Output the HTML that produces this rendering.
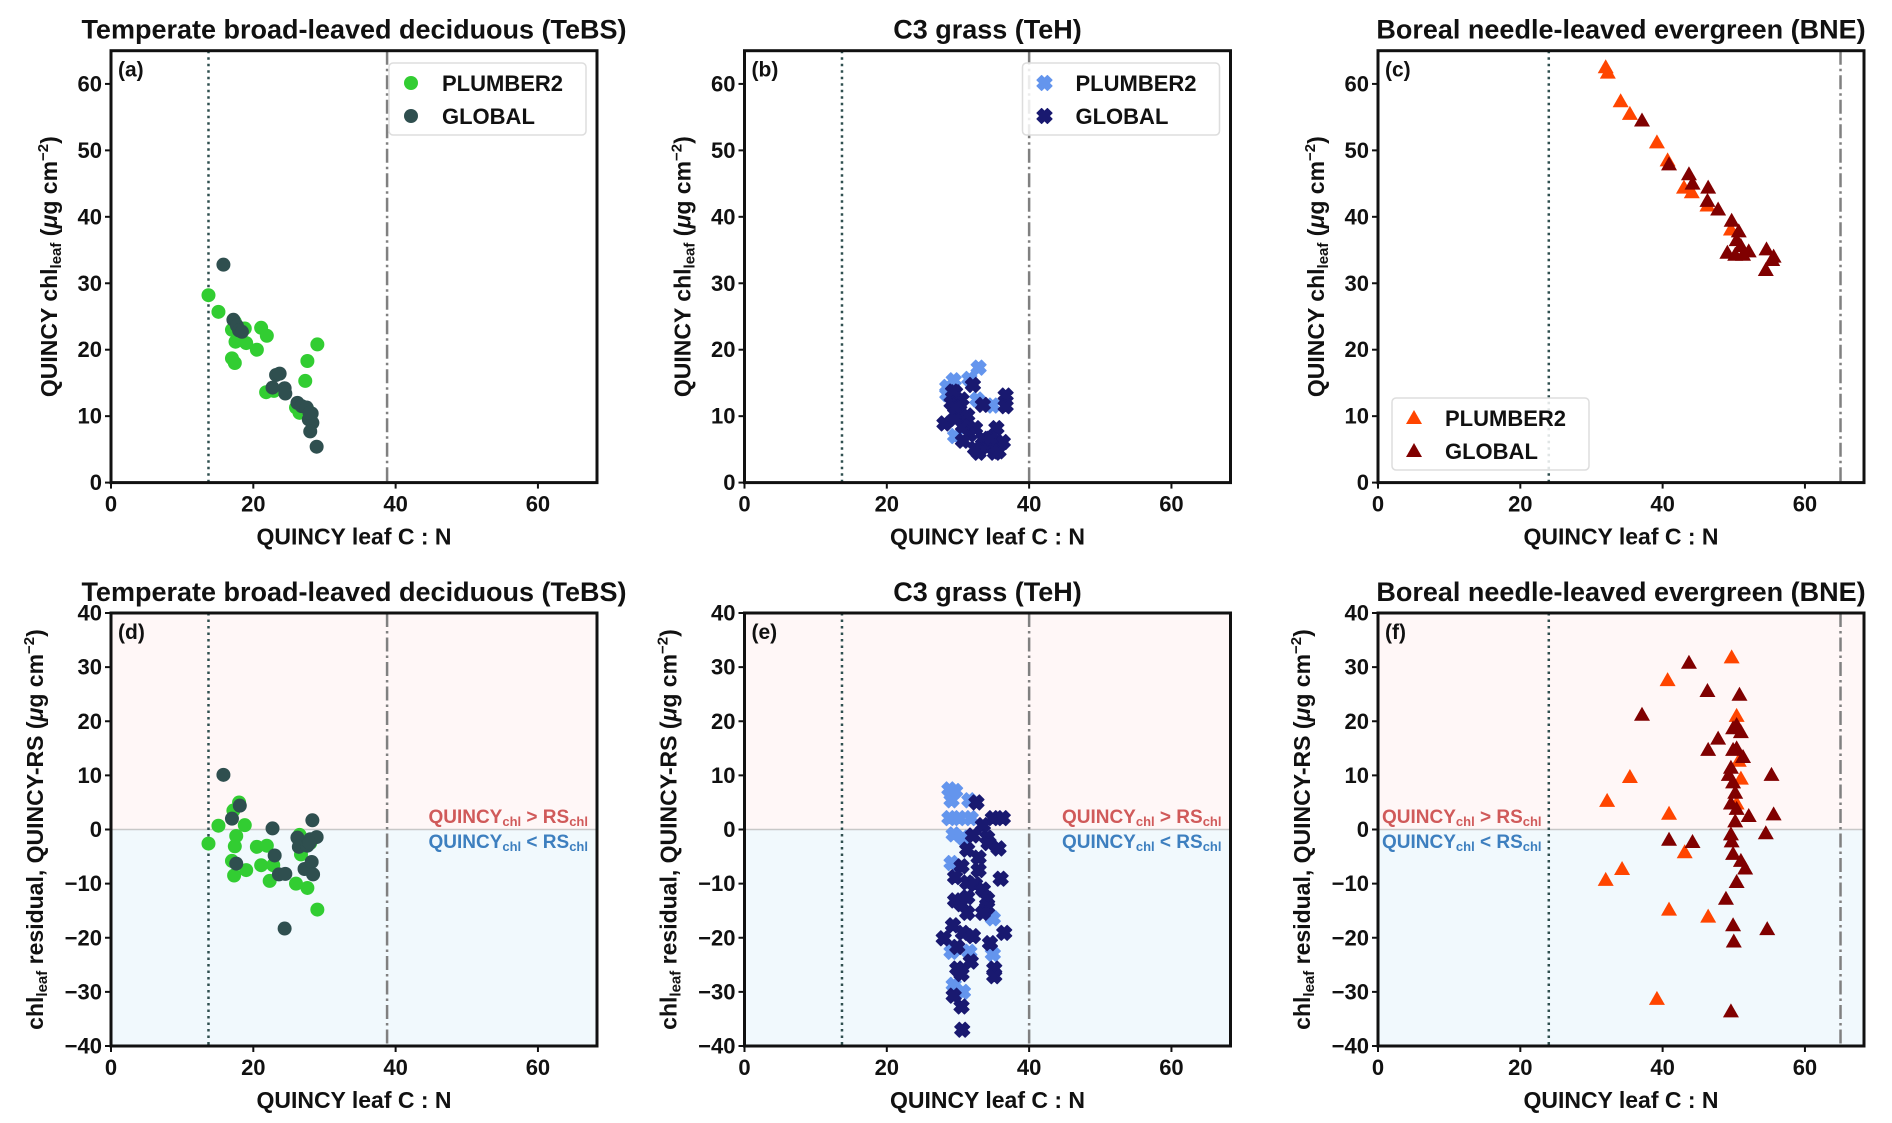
<!DOCTYPE html>
<html><head><meta charset="utf-8"><style>
html,body{margin:0;padding:0;background:#fff}
svg{display:block}
text{font-family:"Liberation Sans","DejaVu Sans",sans-serif}
</style></head><body>
<svg id="fig" width="1892" height="1123" viewBox="0 0 1892 1123" xmlns="http://www.w3.org/2000/svg"></svg>
<script>
// ---- data ----
const xTicks=[0,20,40,60];
const yTicksTop=[0,10,20,30,40,50,60];
const yTicksBot=[-40,-30,-20,-10,0,10,20,30,40];
const titles=["Temperate broad-leaved deciduous (TeBS)","C3 grass (TeH)","Boreal needle-leaved evergreen (BNE)"];
const letters=["(a)","(b)","(c)","(d)","(e)","(f)"];
const dotLines=[13.7,13.7,24];
const dashLines=[38.8,40,65];
const aP=[[13.7,28.2],[15.1,25.7],[17,23],[17.4,24.2],[17.5,21.2],[17,18.7],[17.4,18],[18,22],[18.8,23.2],[19,21],[20.5,20],[21.1,23.3],[21.9,22.1],[21.8,13.6],[22.9,13.8],[26,11.3],[26.5,10.5],[27.3,15.3],[27.6,18.3],[29,20.8],[28,9.6],[27.6,11]];
const aG=[[15.8,32.8],[17.2,24.5],[17.7,23.6],[18,22.9],[18.4,22.7],[22.7,14.3],[23.2,16.2],[23.7,16.4],[24.4,14.2],[24.5,13.4],[26.2,12],[26.8,11.5],[27.5,11.3],[28.2,10.4],[27.8,9.5],[28.3,9],[28,7.7],[28.9,5.4],[27.9,10.5]];
const dP=[[13.7,-2.6],[15.1,0.7],[17,-5.8],[17.2,3.5],[17.3,-8.5],[17.4,-3.1],[17.6,-1.2],[18,5],[18.8,0.8],[19,-7.5],[20.5,-3.2],[21.1,-6.6],[21.9,-3],[22.3,-9.5],[22.8,-6.6],[26,-10],[26.5,-1],[26.7,-4.6],[27.3,-3],[27.6,-10.8],[28,-2.5],[29,-14.8]];
const dG=[[15.8,10.1],[17,2],[17.6,-6.3],[18.1,4.4],[22.7,0.2],[23,-4.8],[23.6,-8.3],[24.4,-18.3],[24.5,-8.2],[26.2,-1.5],[26.4,-3.2],[27.2,-7.3],[27.6,-3],[28,-1.8],[28.2,-6],[28.3,1.7],[28.4,-8.3],[28.9,-1.4],[27.9,-2.5]];
const bP=[[32.9,17.3],[29.4,15.4],[28.5,14.4],[31.6,15.6],[28.5,13.3],[34.9,11.6],[29.6,7],[32.7,12.5]];
const bG=[[28.1,8.9],[32.1,14.7],[29.6,13.6],[29.1,12],[30.2,10.9],[31.3,10.1],[30.7,8.5],[33.5,11.7],[36.7,13.1],[36.7,11.5],[32.4,8.2],[33.5,6.6],[34.1,5.3],[35.4,8.2],[36.3,6.1],[35.2,4.5],[32.9,4.5],[31.6,7.2],[30.7,6.3],[29.6,9.6],[30.5,12.5],[34.6,6.6],[35.7,4.7],[32.4,5.1],[29.6,11.3],[29.3,13.7]];
const eP=[[28.8,7.4],[29.6,7.1],[29.1,5.4],[28.8,2.1],[30.2,2.1],[31.8,2.1],[31.6,5.4],[29.4,-0.9],[30.7,-1.5],[29.1,-6.2],[34.9,-16.4],[34.9,-23],[29.1,-22.6],[29.4,-28.7],[30.7,-30],[31.6,-22.6]];
const eG=[[32.6,5],[34.9,2.1],[36.3,2.1],[33.5,0.8],[34.1,-1.5],[34.3,-2.5],[35.7,-3.5],[32.1,-1.1],[31.3,-3.7],[32.9,-5.2],[32.9,-7.5],[30.5,-6.8],[29.6,-8.8],[36,-9.1],[31.3,-9.8],[32.4,-10.1],[33.5,-11.1],[34.1,-12.8],[29.6,-13.1],[30.5,-13.8],[31.3,-12.5],[34.1,-14.4],[31.3,-15.4],[33.5,-15.4],[29.3,-17.7],[30.7,-19.1],[32.1,-19.7],[28,-20.1],[36.5,-19.1],[34.5,-21],[29.9,-21.7],[31.8,-24.4],[29.9,-25.7],[35.1,-25.7],[30.5,-26.7],[35.1,-27.1],[29.4,-30.7],[30.5,-32.7],[30.6,-37]];
const cP=[[32,62.5],[32.3,61.7],[34.1,57.4],[35.4,55.5],[39.2,51.2],[40.7,48.5],[43,44.4],[44.1,43.7],[46.3,41.7],[49.6,38.1]];
const cG=[[37.1,54.5],[40.9,47.9],[43.7,46.4],[44.2,45],[46.4,44.4],[46.3,42.4],[47.8,41.1],[49.7,39.4],[50.7,37.8],[50.4,36.5],[49.1,34.6],[50.2,34.3],[51.3,34.3],[52.1,34.8],[54.6,35.1],[55.6,34],[54.5,32],[55.4,33.5],[51,35.6]];
const fP=[[49.7,31.8],[40.7,27.6],[50.4,21],[35.4,9.7],[32.2,5.3],[40.9,2.9],[43.1,-4.2],[34.3,-7.3],[32,-9.3],[40.9,-14.8],[46.4,-16.1],[39.2,-31.3],[51,9.4],[50.7,12.7],[50.4,4.8]];
const fG=[[43.7,30.8],[46.3,25.6],[50.8,24.9],[37.1,21.2],[50.4,19.3],[51,18],[49.9,18.7],[47.8,16.8],[46.4,14.7],[49.9,14.7],[51.3,13.4],[49.6,11.4],[49.3,10.1],[49.9,8.7],[50.2,6.8],[49.6,4.8],[50.4,3.8],[52.1,2.5],[55.6,2.8],[55.3,10.1],[50.2,1.5],[54.5,-0.7],[40.9,-1.9],[44.2,-2.3],[49.6,-0.9],[49.7,-2.2],[49.9,-4.5],[51,-5.8],[51.6,-7.2],[50.4,-9.7],[48.9,-12.8],[49.9,-17.7],[54.7,-18.4],[50,-20.7],[49.6,-33.6],[50.4,15]];
const legendLabels=["PLUMBER2","GLOBAL"];

// ---- layout ----
const NS="http://www.w3.org/2000/svg";
const svg=document.getElementById('fig');
const colL=[111,744.5,1378], W=486;
const rowT=[50.7,613], rowB=[482.6,1046];
const XMAX=68.3;
const styles=[
 {m:'circle',c:['#32cd32','#2f4f4f']},
 {m:'cross',c:['#6495ed','#191970']},
 {m:'tri',c:['#ff4500','#800000']}];
function el(t,a,p){const e=document.createElementNS(NS,t);for(const k in a)e.setAttribute(k,a[k]);(p||svg).appendChild(e);return e;}
function marker(g,type,x,y,col){
 let e;
 if(type==='circle'){e=el('circle',{cx:x,cy:y,r:7,fill:col},g);}
 else if(type==='cross'){const s=4.6,L=7.5;
  const d=`M${x-L+s},${y-L} L${x},${y-s} L${x+L-s},${y-L} L${x+L},${y-L+s} L${x+s},${y} L${x+L},${y+L-s} L${x+L-s},${y+L} L${x},${y+s} L${x-L+s},${y+L} L${x-L},${y+L-s} L${x-s},${y} L${x-L},${y-L+s} Z`;
  e=el('path',{d:d,fill:col,stroke:col,'stroke-width':1.2,'stroke-linejoin':'round'},g);}
 else {e=el('path',{d:`M${x},${y-8} L${x+8},${y+6} L${x-8},${y+6} Z`,fill:col},g);}
 return e;}
const datasets=[[aP,aG],[bP,bG],[cP,cG],[dP,dG],[eP,eG],[fP,fG]];
for(let r=0;r<2;r++)for(let c=0;c<3;c++){
 const idx=r*3+c, L=colL[c], T=rowT[r], B=rowB[r];
 const ymin=r?-40:0, ymax=r?40:65;
 const sx=v=>L+v/XMAX*W, sy=v=>B-(v-ymin)/(ymax-ymin)*(B-T);
 const g=el('g',{});
 
 
 if(r){
  const up=el('rect',{x:L,y:T,width:W,height:sy(0)-T,fill:'#fff7f7'},g);
  
  
  const dn=el('rect',{x:L,y:sy(0),width:W,height:B-sy(0),fill:'#f1f9fd'},g);
  
  
  const zl=el('line',{x1:L,x2:L+W,y1:sy(0),y2:sy(0),stroke:'#c8c8c8','stroke-width':1.5},g);
  
  
 }
 const dl=el('line',{x1:sx(dotLines[c]),x2:sx(dotLines[c]),y1:T,y2:B,stroke:'#2f4f4f','stroke-width':2.5,'stroke-dasharray':'2.5 4'},g);
 
 
 const ddl=el('line',{x1:sx(dashLines[c]),x2:sx(dashLines[c]),y1:T,y2:B,stroke:'#808080','stroke-width':2.5,'stroke-dasharray':'14 4 2.5 4'},g);
 
 
 const st=styles[c];
 datasets[idx].forEach((ds,si)=>{
  const sg=el('g',{},g);
  
  
  ds.forEach(p=>{const m=marker(sg,st.m,sx(p[0]),sy(p[1]),st.c[si]);
   
   });
 });
 const fr=el('rect',{x:L,y:T,width:W,height:B-T,fill:'none',stroke:'#111','stroke-width':3},g);
 
 
 xTicks.forEach(v=>{el('line',{x1:sx(v),x2:sx(v),y1:B,y2:B+6,stroke:'#111','stroke-width':2},g);
  const t=el('text',{x:sx(v),y:B+29,'text-anchor':'middle','font-size':22,'font-weight':'bold',fill:'#111'},g);t.textContent=v;
  });
 (r?yTicksBot:yTicksTop).forEach(v=>{el('line',{x1:L-6,x2:L,y1:sy(v),y2:sy(v),stroke:'#111','stroke-width':2},g);
  const t=el('text',{x:L-9,y:sy(v)+7.5,'text-anchor':'end','font-size':22,'font-weight':'bold',fill:'#111'},g);t.textContent=(v<0?'\u2212'+(-v):v);
  });
 const xl=el('text',{x:L+W/2,y:B+62,'text-anchor':'middle','font-size':23,'font-weight':'bold',fill:'#111'},g);
 xl.textContent='QUINCY leaf C : N';
 
 const tt=el('text',{x:L+W/2,y:T-12,'text-anchor':'middle','font-size':27,'font-weight':'bold',fill:'#111'},g);
 tt.textContent=titles[c];
 
 const lt=el('text',{x:L+7,y:T+26,'font-size':21,'font-weight':'bold',fill:'#111'},g);
 lt.textContent=letters[idx];
 
 const yc=(T+B)/2, yx=r?L-68:L-54;
 const yl=el('text',{x:yx,y:yc,'text-anchor':'middle','font-size':23,'font-weight':'bold',fill:'#111',transform:`rotate(-90 ${yx} ${yc})`},g);
 
 if(r){yl.innerHTML='chl<tspan font-size="15" dy="4">leaf</tspan><tspan dy="-4"> residual,  QUINCY-RS (</tspan><tspan font-style="italic">μ</tspan>g cm<tspan font-size="15" dy="-9">−2</tspan><tspan dy="9">)</tspan>';}
 else{yl.innerHTML='QUINCY chl<tspan font-size="15" dy="4">leaf</tspan><tspan dy="-4"> (</tspan><tspan font-style="italic">μ</tspan>g cm<tspan font-size="15" dy="-9">−2</tspan><tspan dy="9">)</tspan>';}
 if(r){
  const ax=c===2?L+4:L+W-9, anc=c===2?'start':'end';
  const a1=el('text',{x:ax,y:823,'text-anchor':anc,'font-size':19,'font-weight':'bold',fill:'#d05a5a'},g);
  a1.innerHTML='QUINCY<tspan font-size="13" dy="3">chl</tspan><tspan dy="-3"> &gt; RS</tspan><tspan font-size="13" dy="3">chl</tspan>';
  
  const a2=el('text',{x:ax,y:848,'text-anchor':anc,'font-size':19,'font-weight':'bold',fill:'#3d7fbf'},g);
  a2.innerHTML='QUINCY<tspan font-size="13" dy="3">chl</tspan><tspan dy="-3"> &lt; RS</tspan><tspan font-size="13" dy="3">chl</tspan>';
  
 } else {
  const lx=c===2?L+14:L+W-208, ly=c===2?398:63;
  const lg=el('g',{},g);
  
  el('rect',{x:lx,y:ly,width:197,height:72,rx:4,fill:'#fff','fill-opacity':0.85,stroke:'#ddd','stroke-width':1.5},lg);
  legendLabels.forEach((lab,i)=>{
   const my=ly+20+i*33;
   const m=marker(lg,st.m,lx+22,my,st.c[i]);
   
   const t=el('text',{x:lx+53,y:my+8,'font-size':22,'font-weight':'bold',fill:'#111'},lg);t.textContent=lab;
   
  });
 }
}
</script>
</body></html>
